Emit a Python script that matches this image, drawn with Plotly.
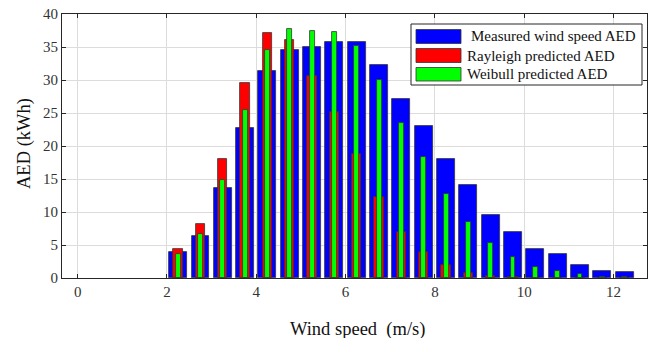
import plotly.graph_objects as go

wind_speed = [2.25, 2.75, 3.25, 3.75, 4.25, 4.75, 5.25, 5.75, 6.25, 6.75, 7.25,
              7.75, 8.25, 8.75, 9.25, 9.75, 10.25, 10.75, 11.25, 11.75, 12.25]
measured_aed = [3.9, 6.4, 13.6, 22.8, 31.4, 34.5, 35.0, 35.7, 35.7, 32.2, 27.1,
                23.1, 18.0, 14.1, 9.5, 6.9, 4.4, 3.7, 1.9, 1.1, 0.9]
rayleigh_aed = [4.4, 8.2, 18.0, 29.5, 37.1, 36.0, 30.6, 25.1, 18.8, 12.2, 7.0,
                3.9, 1.9, 0.8, 0.3, 0.1, 0.0, 0.0, 0.0, 0.0, 0.0]
weibull_aed = [3.7, 6.7, 14.9, 25.5, 34.6, 37.7, 37.5, 37.3, 35.2, 30.0, 23.5,
               18.3, 12.7, 8.5, 5.3, 3.2, 1.7, 1.1, 0.55, 0.2, 0.1]
series_names = ["Measured wind speed AED", "Rayleigh predicted AED", "Weibull predicted AED"]
x_ticks = [0, 2, 4, 6, 8, 10, 12]
y_ticks = [0, 5, 10, 15, 20, 25, 30, 35, 40]

colors = ["#0000FF", "#FF0000", "#00FF00"]
widths = [0.4, 0.21, 0.11]
FONT = "Liberation Serif, Times New Roman, serif"

fig = go.Figure()
for name, vals, c, w in zip(series_names, [measured_aed, rayleigh_aed, weibull_aed], colors, widths):
    fig.add_trace(go.Bar(x=wind_speed, y=vals, width=w, name=name,
                         marker=dict(color=c, line=dict(color="#333333", width=0.8)),
                         showlegend=False))

axis_common = dict(showline=True, linecolor="#262626", linewidth=1, mirror="allticks",
                   ticks="inside", ticklen=4, tickcolor="#262626", automargin=False,
                   showgrid=True, gridcolor="#DCDCDC", gridwidth=1, zeroline=False,
                   tickfont=dict(family=FONT, size=15, color="#333333"))

fig.update_layout(
    width=656, height=338,
    margin=dict(l=62, r=9, t=14, b=60, autoexpand=False),
    paper_bgcolor="white", plot_bgcolor="white",
    barmode="overlay", bargap=0,
    xaxis=dict(range=[-0.35, 12.75], tickvals=x_ticks, **axis_common),
    yaxis=dict(range=[0, 40], tickvals=y_ticks, **axis_common),
)

pw, ph = 585.0, 264.0
def px(x):
    return (x - 62) / pw
def py(y):
    return (278 - y) / ph

# Axis titles
fig.add_annotation(xref="paper", yref="paper", x=px(357), y=py(329), text="Wind speed  (m/s)",
                   showarrow=False, xanchor="center", yanchor="middle",
                   font=dict(family=FONT, size=18.5, color="#111111"))
fig.add_annotation(xref="paper", yref="paper", x=px(24), y=py(144), text="AED (kWh)",
                   showarrow=False, xanchor="center", yanchor="middle", textangle=-90,
                   font=dict(family=FONT, size=18.5, color="#111111"))

# Custom legend
fig.add_shape(type="rect", xref="paper", yref="paper",
              x0=px(411), x1=px(642), y0=py(85), y1=py(24),
              line=dict(color="#262626", width=1), fillcolor="white", layer="above")
sw_y = [(29.5, 43.5), (48.5, 62.5), (67.5, 81)]
txt_x = [469, 465, 465]
for (y0, y1), c, name, tx in zip(sw_y, colors, series_names, txt_x):
    fig.add_shape(type="rect", xref="paper", yref="paper",
                  x0=px(416), x1=px(461), y0=py(y1), y1=py(y0),
                  line=dict(color="#333333", width=0.8), fillcolor=c, layer="above")
    fig.add_annotation(xref="paper", yref="paper", x=px(tx), y=py((y0 + y1) / 2),
                       text=name, showarrow=False, xanchor="left", yanchor="middle",
                       font=dict(family=FONT, size=15, color="#111111"))

fig.write_html("out.html", config={"displayModeBar": False},
               post_script="document.body.style.margin='0';")
